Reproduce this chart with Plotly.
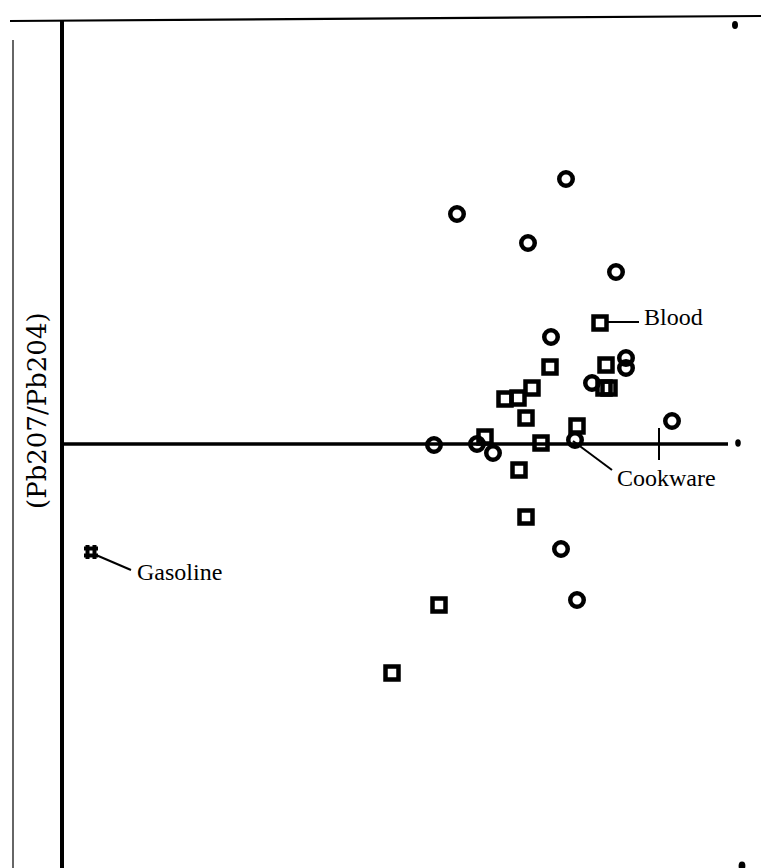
import plotly.graph_objects as go

W, H = 761, 868

# ---- data (arbitrary units; y = 0 is the reference line) ----
circle_x = [5.66, 4.57, 5.28, 6.16, 5.51, 6.26, 6.26, 5.92, 6.72, 4.34, 4.77, 4.93, 5.75, 5.61, 5.77]
circle_y = [2.65, 2.30, 2.01, 1.72, 1.07, 0.86, 0.76, 0.61, 0.23, -0.01, 0.00, -0.09, 0.04, -1.05, -1.56]

square_x = [6.00, 5.50, 6.06, 6.04, 6.09, 5.32, 5.05, 5.18, 5.26, 5.77, 4.85, 5.41, 5.19, 5.26, 4.39, 3.92]
square_y = [1.21, 0.77, 0.79, 0.56, 0.56, 0.56, 0.45, 0.46, 0.26, 0.18, 0.07, 0.01, -0.26, -0.73, -1.61, -2.29]

gasoline_x = [0.91]
gasoline_y = [-1.08]

labels = ["Blood", "Cookware", "Gasoline"]
y_title = "(Pb207/Pb204)"

X_RANGE = [0, 7.61]
Y_RANGE = [-4.24, 4.44]


def px(x):  # pixel -> paper x
    return x / W


def py(y):  # pixel -> paper y
    return 1 - y / H


fig = go.Figure()

fig.add_trace(go.Scatter(
    x=circle_x, y=circle_y, mode="markers",
    marker=dict(symbol="circle-open", size=13.5, color="black", line=dict(width=4.5, color="black")),
    hoverinfo="skip", showlegend=False))

fig.add_trace(go.Scatter(
    x=square_x, y=square_y, mode="markers",
    marker=dict(symbol="square-open", size=13, color="black", line=dict(width=4.5, color="black")),
    hoverinfo="skip", showlegend=False))

fig.add_trace(go.Scatter(
    x=gasoline_x, y=gasoline_y, mode="markers",
    marker=dict(symbol="hash-open", size=14, color="black", line=dict(width=4, color="black")),
    hoverinfo="skip", showlegend=False))

shapes = []
# frame lines (paper coordinates)
shapes.append(dict(type="line", xref="paper", yref="paper", x0=px(10), y0=py(21), x1=px(761), y1=py(16),
                   line=dict(color="black", width=2.2)))
shapes.append(dict(type="line", xref="paper", yref="paper", x0=px(13), y0=py(40), x1=px(13), y1=py(868),
                   line=dict(color="#333333", width=1.5)))
shapes.append(dict(type="line", xref="paper", yref="paper", x0=px(62), y0=py(20), x1=px(62), y1=py(868),
                   line=dict(color="black", width=4)))
# reference horizontal line (y = 0)
shapes.append(dict(type="line", xref="paper", yref="y", x0=px(62), y0=0, x1=px(728), y1=0,
                   line=dict(color="black", width=3.5)))
# small dots at the ends
for (cx, cy, r) in [(738, 443, 2.8), (735, 25, 3.0), (742, 866, 3.4)]:
    shapes.append(dict(type="circle", xref="paper", yref="paper",
                       x0=px(cx - r), y0=py(cy - r * 1.3), x1=px(cx + r), y1=py(cy + r * 1.3),
                       fillcolor="black", line=dict(width=0)))

# leader lines (data coordinates, from the labelled points)
bx, by = square_x[0], square_y[0]
shapes.append(dict(type="line", x0=bx + 0.08, y0=by + 0.01, x1=bx + 0.39, y1=by + 0.01,
                   line=dict(color="black", width=2)))
cx_, cy_ = circle_x[12], circle_y[12]
shapes.append(dict(type="line", x0=cx_ - 0.02, y0=cy_ - 0.01, x1=cx_ + 0.37, y1=cy_ - 0.30,
                   line=dict(color="black", width=2)))
shapes.append(dict(type="line", x0=6.59, y0=0.16, x1=6.59, y1=-0.16,
                   line=dict(color="black", width=2)))
gx, gy = gasoline_x[0], gasoline_y[0]
shapes.append(dict(type="line", x0=gx + 0.05, y0=gy - 0.03, x1=gx + 0.40, y1=gy - 0.18,
                   line=dict(color="black", width=2)))

FONT = dict(family="Liberation Serif, Times New Roman, serif", size=24, color="black")

annotations = [
    dict(x=bx + 0.42, y=by + 0.06, text=labels[0], showarrow=False, xanchor="left", yanchor="middle", font=FONT),
    dict(x=cx_ + 0.40, y=cy_ - 0.38, text=labels[1], showarrow=False, xanchor="left", yanchor="middle", font=FONT),
    dict(x=gx + 0.44, y=gy - 0.20, text=labels[2], showarrow=False, xanchor="left", yanchor="middle", font=FONT),
    dict(xref="paper", yref="paper", x=px(37), y=py(411), text=y_title, showarrow=False, textangle=-90,
         xanchor="center", yanchor="middle",
         font=dict(family="DejaVu Serif, serif", size=26, color="black")),
]

fig.update_layout(
    width=W, height=H,
    margin=dict(l=0, r=0, t=0, b=0),
    paper_bgcolor="white", plot_bgcolor="white",
    xaxis=dict(range=X_RANGE, visible=False, fixedrange=True),
    yaxis=dict(range=Y_RANGE, visible=False, fixedrange=True),
    shapes=shapes, annotations=annotations,
    showlegend=False,
)

fig.write_html(
    "out.html",
    config={"displayModeBar": False, "staticPlot": True},
    post_script="document.body.style.margin='0';document.body.style.overflow='hidden';",
)
